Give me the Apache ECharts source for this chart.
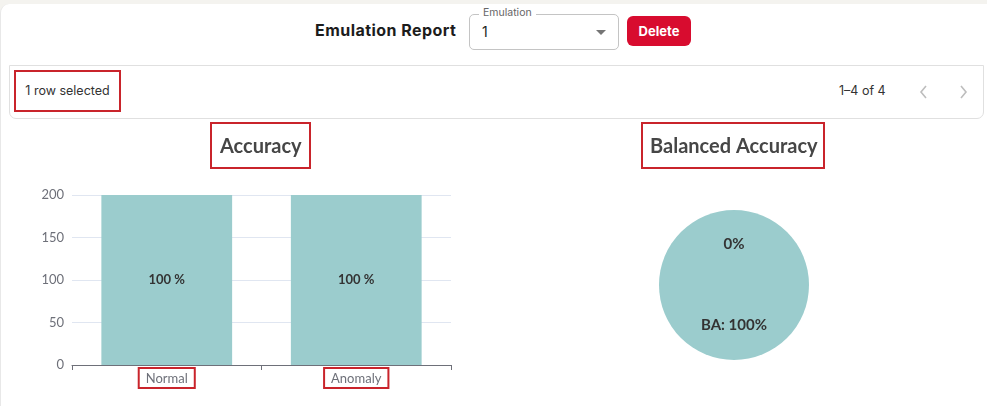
<!DOCTYPE html>
<html>
<head>
<meta charset="utf-8">
<script src="https://cdn.jsdelivr.net/npm/echarts@6/dist/echarts.min.js"></script>
<style>
  html, body { margin: 0; padding: 0; background: #f4f3ef; }
  body { width: 987px; height: 406px; overflow: hidden; position: relative; font-family: "Inter", "Noto Sans", sans-serif; }
  .card { position: absolute; left: 0; top: 4px; width: 1000px; height: 420px; background: #fff; border-radius: 9px 0 0 0; border-left: 1px solid #e8e8e8; }
  .report-title { position: absolute; left: 315px; top: 20px; font-size: 16px; font-weight: 700; color: #1c1c1c; letter-spacing: 0.45px; }
  .select { position: absolute; left: 469px; top: 14px; width: 148px; height: 34px; border: 1px solid #c4c4c4; border-radius: 5px; }
  .select .legend { position: absolute; left: 9px; top: -9px; padding: 0 4px; background: #fff; font-size: 10.5px; color: #666; }
  .select .value { position: absolute; left: 12px; top: 8px; font-size: 14px; color: #222; }
  .select .arrow { position: absolute; right: 12px; top: 15px; width: 0; height: 0; border-left: 5px solid transparent; border-right: 5px solid transparent; border-top: 5px solid #757575; }
  .delete { position: absolute; left: 627px; top: 16px; width: 64px; height: 30px; background: #d80c2f; border-radius: 6px; color: #fff; font-size: 13px; font-weight: 700; text-align: center; line-height: 30px; }
  .footer { position: absolute; left: 9px; top: 65px; width: 973px; height: 52px; border: 1px solid #e0e0e0; border-radius: 0 0 7px 7px; }
  .selected { position: absolute; left: 4px; top: 4px; width: 103px; height: 38px; border: 2px solid #c9242b; font-size: 12.5px; color: #333; line-height: 38px; text-align: center; }
  .pager { position: absolute; left: 829px; top: 17px; font-size: 12.5px; color: #333; }
  .chev { position: absolute; top: 19px; }
  #chart { position: absolute; left: 0; top: 118px; width: 987px; height: 288px; }
</style>
</head>
<body>
<div class="card"></div>
<div class="report-title">Emulation Report</div>
<div class="select">
  <span class="legend">Emulation</span>
  <span class="value">1</span>
  <span class="arrow"></span>
</div>
<div class="delete">Delete</div>
<div class="footer">
  <div class="selected">1 row selected</div>
  <div class="pager">1–4 of 4</div>
  <svg class="chev" style="left: 908px;" width="12" height="14"><polyline points="8,1 3,7 8,13" fill="none" stroke="#bdbdbd" stroke-width="1.6"/></svg>
  <svg class="chev" style="left: 948px;" width="12" height="14"><polyline points="3,1 8,7 3,13" fill="none" stroke="#bdbdbd" stroke-width="1.6"/></svg>
</div>
<div id="chart"></div>
<script>
// accuracy bars
var categories = ['Normal', 'Anomaly'];
var barValues = [200, 200];
var barLabels = ['100 %', '100 %'];
var yTicks = [0, 50, 100, 150, 200];

// balanced accuracy pie
var pieNames = ['rest', 'BA'];
var pieValues = [0, 100];
var pieLabels = ['0%', 'BA: 100%'];

var teal = '#9bcccd';
var red = '#c9242b';

var chart = echarts.init(document.getElementById('chart'));
var option = {
  animation: false,
  textStyle: { fontFamily: 'Lato, sans-serif' },
  title: [
    {
      text: 'Accuracy',
      left: 211, top: 5,
      padding: [14, 9, 11, 9],
      borderColor: red, borderWidth: 2,
      textStyle: { fontSize: 20, fontWeight: 'bold', color: '#464646', fontFamily: 'Lato, sans-serif' }
    },
    {
      text: 'Balanced Accuracy',
      left: 642, top: 5,
      padding: [14, 7, 11, 8],
      borderColor: red, borderWidth: 2,
      textStyle: { fontSize: 20, fontWeight: 'bold', color: '#464646', fontFamily: 'Lato, sans-serif' }
    }
  ],
  grid: { left: 72, right: 536, top: 77, bottom: 41 },
  xAxis: {
    type: 'category',
    data: categories,
    axisTick: { show: true },
    axisLine: { lineStyle: { color: '#6E7079' } },
    axisLabel: {
      margin: 3,
      color: '#6E7079',
      fontSize: 13,
      padding: [4, 7, 3, 7],
      borderColor: red,
      borderWidth: 2
    }
  },
  yAxis: {
    type: 'value',
    min: yTicks[0],
    max: yTicks[yTicks.length - 1],
    interval: yTicks[1] - yTicks[0],
    axisLabel: { color: '#6E7079', fontSize: 13 },
    splitLine: { lineStyle: { color: '#E0E6F1' } }
  },
  series: [
    {
      type: 'bar',
      barWidth: '69%',
      data: barValues,
      itemStyle: { color: teal },
      label: {
        show: true,
        position: 'inside',
        color: '#333',
        fontWeight: 'bold',
        fontSize: 13,
        formatter: function (p) { return barLabels[p.dataIndex]; }
      }
    },
    {
      type: 'pie',
      center: [734, 167],
      radius: 75,
      data: pieNames.map(function (n, i) { return { name: n, value: pieValues[i] }; }),
      color: [teal, teal],
      label: {
        show: true,
        position: 'inner',
        color: '#333',
        fontWeight: 'bold',
        fontSize: 15,
        formatter: function (p) { return pieLabels[p.dataIndex]; }
      },
      labelLine: { show: false }
    }
  ]
};
chart.setOption(option);
</script>
</body>
</html>
